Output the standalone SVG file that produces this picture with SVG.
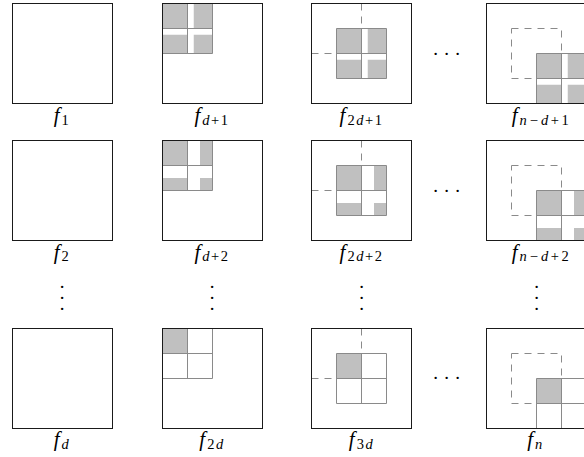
<svg xmlns="http://www.w3.org/2000/svg" width="584" height="457" viewBox="0 0 584 457">
<defs>
<style>
.outline{fill:none;stroke:#1a1a1a;stroke-width:1}
.g{fill:#c0c0c0}
.grid{fill:none;stroke:#8a8a8a;stroke-width:1}
.dash{fill:none;stroke:#8a8a8a;stroke-width:1;stroke-dasharray:7 6}
.lab{font-family:"Liberation Serif","Times New Roman",serif;font-size:21px;fill:#000;text-anchor:middle}
.it{font-style:italic}
.sub{font-size:14.5px;letter-spacing:1.5px}
.dot{font-family:"Liberation Serif","Times New Roman",serif;font-size:19px;fill:#000;text-anchor:middle}
</style>
</defs>
<rect width="584" height="457" fill="#fff"/>

<!-- Column 1 -->
<g id="f1">
  <rect class="outline" x="12.5" y="3.5" width="100" height="100"/>
  <text class="lab" x="62" y="122"><tspan class="it">f</tspan><tspan class="sub" dx="2" dy="2.5">1</tspan></text>
</g>
<g id="f2">
  <rect class="outline" x="12.5" y="140.5" width="100" height="100"/>
  <text class="lab" x="62" y="258.5"><tspan class="it">f</tspan><tspan class="sub" dx="2" dy="2.5">2</tspan></text>
</g>
<g id="fd">
  <rect class="outline" x="12.5" y="328.5" width="100" height="100"/>
  <text class="lab" x="62" y="446"><tspan class="it">f</tspan><tspan class="sub it" dx="2" dy="2.5">d</tspan></text>
</g>

<!-- Column 2 -->
<g id="f_d1">
  <g transform="translate(162.5,3.5)">
    <rect class="g" x="0" y="0" width="25" height="25"/>
    <rect class="g" x="31.25" y="0" width="18.75" height="25"/>
    <rect class="g" x="0" y="31.25" width="25" height="18.75"/>
    <rect class="g" x="31.25" y="31.25" width="18.75" height="18.75"/>
    <path class="grid" d="M0 0H50V50H0Z M25 0V50 M0 25H50"/>
    <rect class="outline" x="0" y="0" width="100" height="100"/>
  </g>
  <text class="lab" x="212" y="122"><tspan class="it">f</tspan><tspan class="sub" dx="2" dy="2.5"><tspan class="it">d</tspan>+1</tspan></text>
</g>
<g id="f_d2">
  <g transform="translate(162.5,140.5)">
    <rect class="g" x="0" y="0" width="25" height="25"/>
    <rect class="g" x="37.5" y="0" width="12.5" height="25"/>
    <rect class="g" x="0" y="37.5" width="25" height="12.5"/>
    <rect class="g" x="37.5" y="37.5" width="12.5" height="12.5"/>
    <path class="grid" d="M0 0H50V50H0Z M25 0V50 M0 25H50"/>
    <rect class="outline" x="0" y="0" width="100" height="100"/>
  </g>
  <text class="lab" x="212" y="258.5"><tspan class="it">f</tspan><tspan class="sub" dx="2" dy="2.5"><tspan class="it">d</tspan>+2</tspan></text>
</g>
<g id="f_2d">
  <g transform="translate(162.5,328.5)">
    <rect class="g" x="0" y="0" width="25" height="25"/>
    <path class="grid" d="M0 0H50V50H0Z M25 0V50 M0 25H50"/>
    <rect class="outline" x="0" y="0" width="100" height="100"/>
  </g>
  <text class="lab" x="212" y="446"><tspan class="it">f</tspan><tspan class="sub" dx="2" dy="2.5">2<tspan class="it">d</tspan></tspan></text>
</g>

<!-- Column 3 -->
<g id="f_2d1">
  <g transform="translate(311.5,3.5)">
    <path class="dash" d="M50 0V25 M0 50H25"/>
    <g transform="translate(25,25)">
      <rect class="g" x="0" y="0" width="25" height="25"/>
      <rect class="g" x="31.25" y="0" width="18.75" height="25"/>
      <rect class="g" x="0" y="31.25" width="25" height="18.75"/>
      <rect class="g" x="31.25" y="31.25" width="18.75" height="18.75"/>
      <path class="grid" d="M0 0H50V50H0Z M25 0V50 M0 25H50"/>
    </g>
    <rect class="outline" x="0" y="0" width="100" height="100"/>
  </g>
  <text class="lab" x="361.5" y="122"><tspan class="it">f</tspan><tspan class="sub" dx="2" dy="2.5">2<tspan class="it">d</tspan>+1</tspan></text>
</g>
<g id="f_2d2">
  <g transform="translate(311.5,140.5)">
    <path class="dash" d="M50 0V25 M0 50H25"/>
    <g transform="translate(25,25)">
      <rect class="g" x="0" y="0" width="25" height="25"/>
      <rect class="g" x="37.5" y="0" width="12.5" height="25"/>
      <rect class="g" x="0" y="37.5" width="25" height="12.5"/>
      <rect class="g" x="37.5" y="37.5" width="12.5" height="12.5"/>
      <path class="grid" d="M0 0H50V50H0Z M25 0V50 M0 25H50"/>
    </g>
    <rect class="outline" x="0" y="0" width="100" height="100"/>
  </g>
  <text class="lab" x="361.5" y="258.5"><tspan class="it">f</tspan><tspan class="sub" dx="2" dy="2.5">2<tspan class="it">d</tspan>+2</tspan></text>
</g>
<g id="f_3d">
  <g transform="translate(311.5,328.5)">
    <path class="dash" d="M50 0V25 M0 50H25"/>
    <g transform="translate(25,25)">
      <rect class="g" x="0" y="0" width="25" height="25"/>
      <path class="grid" d="M0 0H50V50H0Z M25 0V50 M0 25H50"/>
    </g>
    <rect class="outline" x="0" y="0" width="100" height="100"/>
  </g>
  <text class="lab" x="361.5" y="446"><tspan class="it">f</tspan><tspan class="sub" dx="2" dy="2.5">3<tspan class="it">d</tspan></tspan></text>
</g>

<!-- Column 4 -->
<g id="f_nd1">
  <g transform="translate(486.5,3.5)">
    <rect class="dash" x="25" y="25" width="50" height="50"/>
    <g transform="translate(50,50)">
      <rect class="g" x="0" y="0" width="25" height="25"/>
      <rect class="g" x="31.25" y="0" width="18.75" height="25"/>
      <rect class="g" x="0" y="31.25" width="25" height="18.75"/>
      <rect class="g" x="31.25" y="31.25" width="18.75" height="18.75"/>
      <path class="grid" d="M0 0H50V50H0Z M25 0V50 M0 25H50"/>
    </g>
    <rect class="outline" x="0" y="0" width="100" height="100"/>
  </g>
  <text class="lab" x="541" y="122"><tspan class="it">f</tspan><tspan class="sub" dx="2" dy="2.5"><tspan class="it">n</tspan><tspan dx="1.5">−</tspan><tspan class="it" dx="1.5">d</tspan><tspan dx="1">+</tspan><tspan dx="1">1</tspan></tspan></text>
</g>
<g id="f_nd2">
  <g transform="translate(486.5,140.5)">
    <rect class="dash" x="25" y="25" width="50" height="50"/>
    <g transform="translate(50,50)">
      <rect class="g" x="0" y="0" width="25" height="25"/>
      <rect class="g" x="37.5" y="0" width="12.5" height="25"/>
      <rect class="g" x="0" y="37.5" width="25" height="12.5"/>
      <rect class="g" x="37.5" y="37.5" width="12.5" height="12.5"/>
      <path class="grid" d="M0 0H50V50H0Z M25 0V50 M0 25H50"/>
    </g>
    <rect class="outline" x="0" y="0" width="100" height="100"/>
  </g>
  <text class="lab" x="541" y="258.5"><tspan class="it">f</tspan><tspan class="sub" dx="2" dy="2.5"><tspan class="it">n</tspan><tspan dx="1.5">−</tspan><tspan class="it" dx="1.5">d</tspan><tspan dx="1">+</tspan><tspan dx="1">2</tspan></tspan></text>
</g>
<g id="f_n">
  <g transform="translate(486.5,328.5)">
    <rect class="dash" x="25" y="25" width="50" height="50"/>
    <g transform="translate(50,50)">
      <rect class="g" x="0" y="0" width="25" height="25"/>
      <path class="grid" d="M0 0H50V50H0Z M25 0V50 M0 25H50"/>
    </g>
    <rect class="outline" x="0" y="0" width="100" height="100"/>
  </g>
  <text class="lab" x="535.5" y="446"><tspan class="it">f</tspan><tspan class="sub it" dx="2" dy="2.5">n</tspan></text>
</g>

<!-- Ellipses -->
<g id="ellipses">
  <text class="dot" x="435.7 446.7 457.7" y="54.5">...</text>
  <text class="dot" x="435.7 446.7 457.7" y="191.5">...</text>
  <text class="dot" x="435.7 446.7 457.7" y="379">...</text>
  <text class="dot" x="62 62 62" y="288 299 309.5">...</text>
  <text class="dot" x="212 212 212" y="288 299 309.5">...</text>
  <text class="dot" x="361.5 361.5 361.5" y="288 299 309.5">...</text>
  <text class="dot" x="536.5 536.5 536.5" y="288 299 309.5">...</text>
</g>
<g id="connectors"/>
</svg>
